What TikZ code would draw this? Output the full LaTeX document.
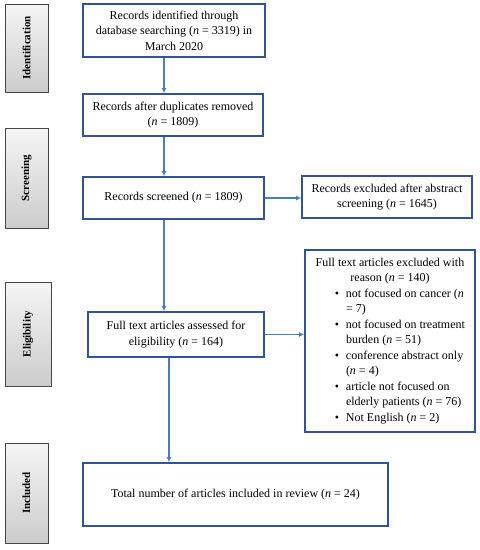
\documentclass[tikz,border=0pt]{standalone}
\usepackage{fontspec}
\setmainfont{Liberation Serif}
\usetikzlibrary{arrows.meta,shadows}
\definecolor{boxblue}{HTML}{2F5597}
\definecolor{arrblue}{HTML}{4A7EBB}
\newcommand{\exitem}{\par\noindent\llap{\textbullet\hspace{7pt}}}
\begin{document}
\begin{tikzpicture}[x=1pt, y=-1pt,
    box/.style={draw=boxblue, line width=1.7pt, fill=white, align=center,
        inner sep=3pt, font=\fontsize{12}{15.5}\selectfont},
    stage/.style={draw=gray!55!black, line width=0.8pt, top color=gray!8,
        bottom color=gray!40, inner sep=0pt, font=\bfseries\fontsize{11}{13}\selectfont,
        drop shadow={shadow xshift=1.2pt, shadow yshift=-1.2pt, opacity=0.35}},
    arr/.style={draw=arrblue, line width=1.4pt, -{Latex[length=5pt,width=5pt]}}]
    \useasboundingbox (0,0) rectangle (480,550);

    % stages on the left
    \node[stage, minimum width=43, minimum height=88] (sident) at (26.5,48) {\rotatebox{90}{Identification}};
    \node[stage, minimum width=43, minimum height=100] (sscreen) at (26.5,178) {\rotatebox{90}{Screening}};
    \node[stage, minimum width=46, minimum height=104] (selig) at (28,334) {\rotatebox{90}{Eligibility}};
    \node[stage, minimum width=43, minimum height=100] (sincl) at (26.5,493) {\rotatebox{90}{Included}};

    % main column
    \node[box, minimum width=182, minimum height=53] (ident) at (174,30.5)
        {Records identified through\\ database searching (\textit{n} = 3319) in\\ March 2020};
    \node[box, minimum width=180, minimum height=42] (dupl) at (173,115)
        {Records after duplicates removed\\ (\textit{n} = 1809)};
    \node[box, minimum width=181, minimum height=42] (screen) at (173.5,198)
        {Records screened (\textit{n} = 1809)};
    \node[box, minimum width=176, minimum height=45] (elig) at (176,334.5)
        {Full text articles assessed for\\ eligibility (\textit{n} = 164)};
    \node[box, minimum width=305, minimum height=63] (incl) at (235.5,494.5)
        {Total number of articles included in review (\textit{n} = 24)};

    % exclusions
    \node[box, minimum width=170, minimum height=182] (fullex) at (390,341) {\parbox{164pt}{%
        {\centering Full text articles excluded with\\ reason (\textit{n} = 140)\par}
        \raggedright\leftskip=38pt
        \exitem not focused on cancer (\textit{n}\\ = 7)
        \exitem not focused on treatment\\ burden (\textit{n} = 51)
        \exitem conference abstract only\\ (\textit{n} = 4)
        \exitem article not focused on\\ elderly patients (\textit{n} = 76)
        \exitem Not English (\textit{n} = 2)\par}};
    \node[box, minimum width=170, minimum height=42] (absex) at (387,197)
        {Records excluded after abstract\\ screening (\textit{n} = 1645)};

    % connectors
    \coordinate (colA) at (164,0);
    \coordinate (colB) at (169,0);
    \draw[arr] (ident.south -| colA) -- (dupl.north -| colA);
    \draw[arr] (dupl.south -| colA) -- (screen.north -| colA);
    \draw[arr] (screen.south -| colA) -- (elig.north -| colA);
    \draw[arr] (elig.south -| colB) -- (incl.north -| colB);
    \draw[arr] (screen.east) -- (screen.east -| absex.west);
    \draw[arr] (elig.east) -- (elig.east -| fullex.west);
\end{tikzpicture}
\end{document}
